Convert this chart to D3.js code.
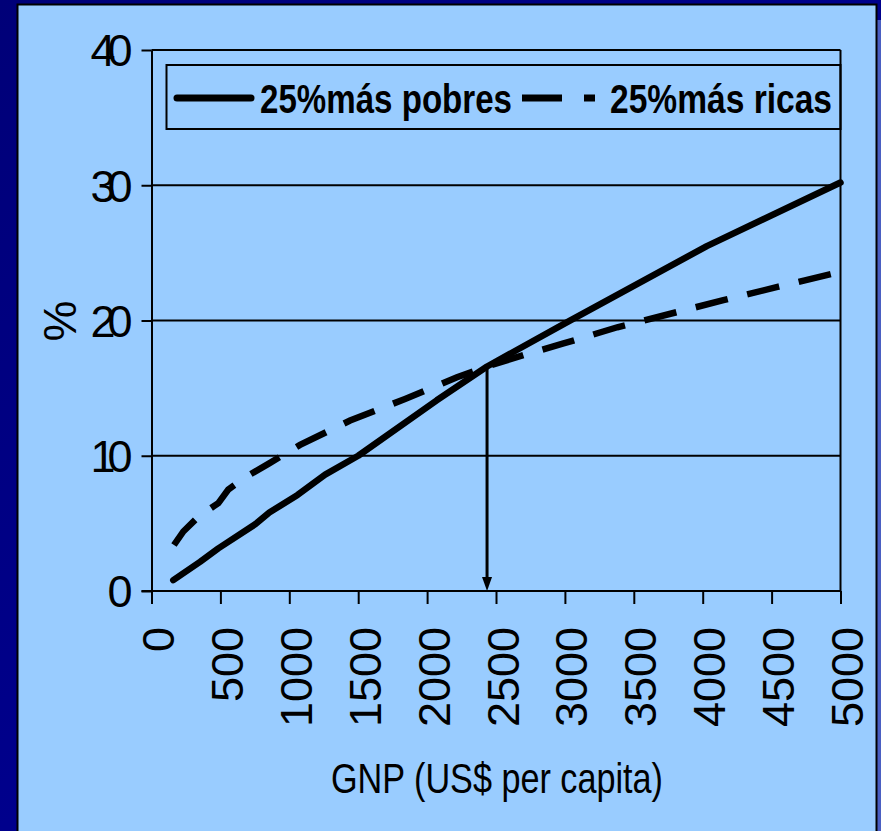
<!DOCTYPE html>
<html>
<head>
<meta charset="utf-8">
<script src="https://cdn.jsdelivr.net/npm/d3@7"></script>
<style>
  html, body { margin: 0; padding: 0; background: #00008a; }
  svg { display: block; }
  text { font-family: "Liberation Sans", Arial, sans-serif; fill: #000; }
</style>
</head>
<body>
<svg id="chart"></svg>
<script>
// Data
const poorGnp = [158, 352, 485, 755, 855, 1060, 1260, 1500, 2070, 2435, 3020, 4030, 5000];
const poorPct = [0.8, 2.15, 3.15, 4.95, 5.8, 7.1, 8.6, 10.0, 14.1, 16.6, 19.9, 25.5, 30.2];
const richGnp = [163, 231, 347, 485, 557, 695, 848, 1078, 1441, 1840, 2217, 2435, 2750, 2990, 3380, 3766, 4150, 4550, 5000];
const richPct = [3.4, 4.4, 5.55, 6.5, 7.5, 8.5, 9.4, 10.8, 12.6, 14.2, 15.8, 16.6, 17.6, 18.3, 19.5, 20.5, 21.5, 22.5, 23.6];
const xTicks = [0, 500, 1000, 1500, 2000, 2500, 3000, 3500, 4000, 4500, 5000];
const yTicks = [0, 10, 20, 30, 40];
const seriesNames = ['25%más pobres', '25%más ricas'];
const crossing = { gnp: 2435, pct: 16.6 };  // arrow from crossing point down to the axis

const W = 881, H = 831;
const svg = d3.select('#chart').attr('width', W).attr('height', H);

// Slide background
const defs = svg.append('defs');
const grad = defs.append('linearGradient').attr('id', 'bg')
  .attr('x1', 0).attr('y1', 0).attr('x2', 1).attr('y2', 1);
grad.append('stop').attr('offset', '0%').attr('stop-color', '#000078');
grad.append('stop').attr('offset', '100%').attr('stop-color', '#0000a0');
svg.append('rect').attr('width', W).attr('height', H).attr('fill', 'url(#bg)');
svg.append('rect').attr('x', 877).attr('y', 20).attr('width', 4).attr('height', H - 20).attr('fill', '#4a5ec2');

// Chart panel
svg.append('rect')
  .attr('x', 17.5).attr('y', 4.5).attr('width', 859).attr('height', 850)
  .attr('fill', '#99ccff').attr('stroke', '#000').attr('stroke-width', 2);

const x = d3.scaleLinear().domain([0, 5000]).range([151.5, 840.5]);
const y = d3.scaleLinear().domain([0, 40]).range([591, 50]);

// Gridlines
svg.append('g').selectAll('line')
  .data(yTicks.filter(d => d > 0))
  .join('line')
  .attr('x1', x(0)).attr('x2', x(5000))
  .attr('y1', d => y(d)).attr('y2', d => y(d))
  .attr('stroke', '#000').attr('stroke-width', 2);

// Plot area right border
svg.append('line')
  .attr('x1', x(5000)).attr('x2', x(5000)).attr('y1', y(40)).attr('y2', y(0))
  .attr('stroke', '#000').attr('stroke-width', 2);

// Y axis
const yAxis = svg.append('g')
  .attr('transform', `translate(${x(0)},0)`)
  .call(d3.axisLeft(y).tickValues(yTicks).tickSize(10).tickSizeOuter(0).tickFormat(d3.format('d')));
yAxis.select('.domain').attr('stroke', '#000').attr('stroke-width', 2);
yAxis.selectAll('.tick line').attr('stroke', '#000').attr('stroke-width', 2);
yAxis.selectAll('.tick text')
  .attr('x', -19).attr('dy', '0.35em')
  .attr('font-size', 45).attr('font-family', '"Liberation Sans", Arial, sans-serif')
  .attr('fill', '#000')
  .attr('textLength', d => String(d).length > 1 ? 42 : null)
  .attr('lengthAdjust', 'spacing');

// X axis
const xAxis = svg.append('g')
  .attr('transform', `translate(0,${y(0)})`)
  .call(d3.axisBottom(x).tickValues(xTicks).tickSize(13).tickSizeOuter(0).tickFormat(d3.format('d')));
xAxis.select('.domain').attr('d', `M${x(0) - 10},0H${x(5000)}`)
  .attr('stroke', '#000').attr('stroke-width', 2);
xAxis.selectAll('.tick line').attr('stroke', '#000').attr('stroke-width', 2);
xAxis.selectAll('.tick text')
  .attr('y', 0).attr('dy', 0)
  .attr('text-anchor', 'end')
  .attr('transform', 'translate(22,36) rotate(-90)')
  .attr('font-size', 45).attr('font-family', '"Liberation Sans", Arial, sans-serif')
  .attr('fill', '#000');

// Axis titles
svg.append('text')
  .attr('transform', 'translate(76,321) rotate(-90)')
  .attr('text-anchor', 'middle')
  .attr('font-size', 46)
  .text('%');

svg.append('text')
  .attr('x', 331).attr('y', 793)
  .attr('font-size', 42)
  .attr('textLength', 332).attr('lengthAdjust', 'spacingAndGlyphs')
  .text('GNP (US$ per capita)');

// Series
const line = d3.line().x(d => x(d[0])).y(d => y(d[1]));
const poor = d3.zip(poorGnp, poorPct);
const rich = d3.zip(richGnp, richPct);

svg.append('path').datum(rich)
  .attr('d', line)
  .attr('fill', 'none').attr('stroke', '#000').attr('stroke-width', 6.5)
  .attr('stroke-dasharray', '33,20');

svg.append('path').datum(poor)
  .attr('d', line)
  .attr('fill', 'none').attr('stroke', '#000').attr('stroke-width', 6.5)
  .attr('stroke-linecap', 'round').attr('stroke-linejoin', 'round');

// Arrow from crossing down to x axis
const ax = x(crossing.gnp);
svg.append('line')
  .attr('x1', ax).attr('x2', ax)
  .attr('y1', y(crossing.pct)).attr('y2', y(0) - 12)
  .attr('stroke', '#000').attr('stroke-width', 3);
svg.append('path')
  .attr('d', `M${ax - 5},${y(0) - 14}L${ax + 5},${y(0) - 14}L${ax},${y(0)}Z`)
  .attr('fill', '#000');

// Legend
const legend = svg.append('g');
legend.append('rect')
  .attr('x', 166.5).attr('y', 65).attr('width', x(5000) - 166.5).attr('height', 64)
  .attr('fill', 'none').attr('stroke', '#000').attr('stroke-width', 2);

const legendItems = [
  { name: seriesNames[0], x1: 177, x2: 251, tx: 260, tw: 252, dash: null, cap: 'round' },
  { name: seriesNames[1], x1: 522, x2: 595, tx: 610, tw: 222, dash: '40,22', cap: 'butt' }
];
legendItems.forEach(it => {
  legend.append('line')
    .attr('x1', it.x1).attr('x2', it.x2).attr('y1', 98).attr('y2', 98)
    .attr('stroke', '#000').attr('stroke-width', 7)
    .attr('stroke-linecap', it.cap)
    .attr('stroke-dasharray', it.dash);
  legend.append('text')
    .attr('x', it.tx).attr('y', 113)
    .attr('font-size', 40).attr('font-weight', 'bold')
    .attr('textLength', it.tw).attr('lengthAdjust', 'spacingAndGlyphs')
    .text(it.name);
});
</script>
</body>
</html>
